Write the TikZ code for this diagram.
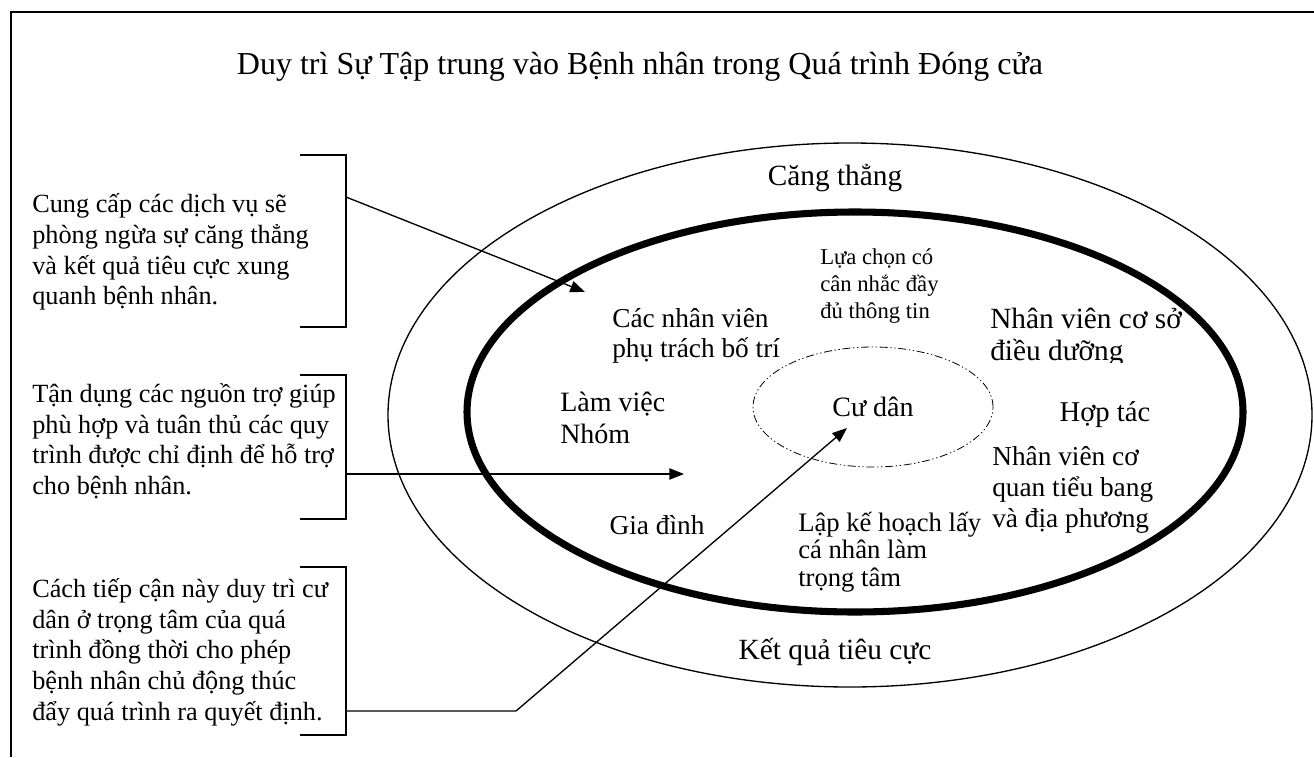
\documentclass[tikz,border=0pt]{standalone}
\usepackage{fontspec}
\setmainfont{Liberation Serif}
\usetikzlibrary{arrows.meta, positioning, shapes.geometric}

\begin{document}
\begin{tikzpicture}[x=0.75pt, y=-0.75pt]

% Define styles
\tikzstyle{note} = [align=left, anchor=west, inner sep=0pt, font=\fontsize{19.7}{23}\selectfont]
\tikzstyle{inlabel} = [align=left, inner sep=0pt, font=\fontsize{20.5}{23}\selectfont]
\tikzstyle{smalltext} = [align=left, inner sep=0pt, font=\fontsize{17}{20}\selectfont]
\tikzstyle{ring} = [ellipse, draw=black, inner sep=0pt, outer sep=0pt]
\tikzstyle{bracket} = [line width=1.1pt]
\tikzstyle{arrow} = [line width=1pt, -{Triangle[length=11pt, width=8.5pt]}]

\useasboundingbox (0,0) rectangle (1314,757);

% Frame
\draw[line width=1.3pt] (11,757) -- (11,12) -- (1314,12);

% Title
\node (title) at (640,67) [font=\fontsize{24}{28}\selectfont] {Duy trì Sự Tập trung vào Bệnh nhân trong Quá trình Đóng cửa};

% Rings
\node (stress) at (850,415) [ring, line width=1pt, minimum width=693pt, minimum height=408pt] {};
\node (care) at (855,412) [ring, line width=5.3pt, minimum width=582pt, minimum height=300pt] {};
\node (resident) at (873,407) [ring, line width=0.6pt, dash pattern=on 6pt off 2pt on 1pt off 2pt on 1pt off 2pt, minimum width=180pt, minimum height=90pt, font=\fontsize{21}{24}\selectfont] {Cư dân};

% Labels inside the rings
\node (tension) at (835,178) [inlabel, font=\fontsize{22}{24}\selectfont] {Căng thẳng};
\node (outcome) at (835,652) [inlabel, font=\fontsize{22}{24}\selectfont] {Kết quả tiêu cực};
\node (choice) at (820,286) [smalltext, anchor=west] {Lựa chọn có\\cân nhắc đầy\\đủ thông tin};
\node (placement) at (612,336) [inlabel, anchor=west] {Các nhân viên\\phụ trách bố trí};
\node (teamwork) at (560,418) [inlabel, anchor=west, font=\fontsize{21}{24.5}\selectfont] {Làm việc\\Nhóm};
\node (family) at (657,525) [inlabel] {Gia đình};
\node (planning) at (798,552) [inlabel, anchor=west, font=\fontsize{20}{20.6}\selectfont] {Lập kế hoạch lấy\\cá nhân làm\\trọng tâm};
\node (collab) at (1105,415) [inlabel, font=\fontsize{21.5}{24}\selectfont] {Hợp tác};
\node (agency) at (992,490) [inlabel, anchor=west] {Nhân viên cơ\\quan tiểu bang\\và địa phương};
\begin{scope}
\clip (980,290) rectangle (1240,362);
\node (nursing) at (990,337) [inlabel, anchor=west, font=\fontsize{22}{24}\selectfont] {Nhân viên cơ sở\\điều dưỡng};
\end{scope}

% Notes on the left
\node (prevent) at (32,252) [note] {Cung cấp các dịch vụ sẽ\\phòng ngừa sự căng thẳng\\và kết quả tiêu cực xung\\quanh bệnh nhân.};
\node (support) at (32,441) [note] {Tận dụng các nguồn trợ giúp\\phù hợp và tuân thủ các quy\\trình được chỉ định để hỗ trợ\\cho bệnh nhân.};
\node (center) at (32,652) [note] {Cách tiếp cận này duy trì cư\\dân ở trọng tâm của quá\\trình đồng thời cho phép\\bệnh nhân chủ động thúc\\đẩy quá trình ra quyết định.};

% Brackets
\draw[bracket] (300,155) -- (346,155) -- (346,327) -- (300,327);
\draw[bracket] (300,375) -- (346,375) -- (346,519) -- (300,519);
\draw[bracket] (300,567) -- (346,567) -- (346,735) -- (300,735);

% Arrows
\coordinate (fromA) at (346,197);
\coordinate (toA) at (585,292);
\coordinate (fromB) at (346,474);
\coordinate (toB) at (684,474);
\coordinate (fromC) at (346,711);
\coordinate (bendC) at (516,711);
\coordinate (toC) at (847,428);
\draw [arrow] (fromA) -- (toA);
\draw [arrow] (fromB) -- (toB);
\draw [arrow] (fromC) -- (bendC) -- (toC);

\end{tikzpicture}
\end{document}
